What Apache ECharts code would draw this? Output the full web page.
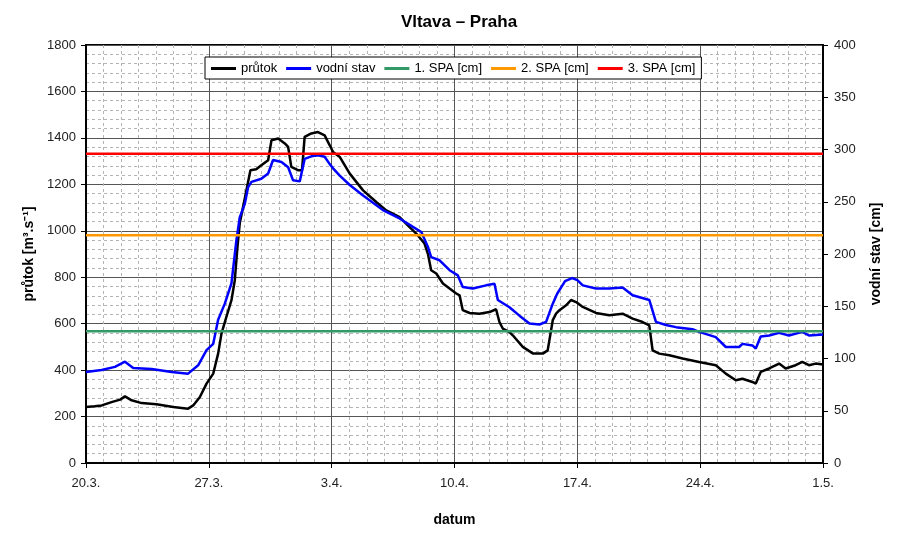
<!DOCTYPE html>
<html>
<head>
<meta charset="utf-8">
<script src="https://cdn.jsdelivr.net/npm/echarts@6/dist/echarts.min.js"></script>
<style>
  html, body { margin: 0; padding: 0; background: #fff; }
  #main { width: 900px; height: 539px; }
</style>
</head>
<body>
<div id="main"></div>
<script>
// osa x: dny od 20.3.
var dayLabels = ["20.3.", "27.3.", "3.4.", "10.4.", "17.4.", "24.4.", "1.5."];

// průtok [m3/s] - [den, hodnota]
var prutok = [
  [0, 241], [0.5, 244], [0.9, 248], [1.5, 263], [1.95, 273], [2.22, 287], [2.6, 270],
  [3.17, 258], [4.02, 253], [4.97, 241], [5.82, 234], [6.11, 248], [6.49, 284],
  [6.87, 342], [7.25, 385], [7.53, 471], [7.72, 557], [8.0, 629], [8.29, 701],
  [8.48, 787], [8.63, 930], [8.76, 1031], [8.95, 1102], [9.18, 1189], [9.37, 1261],
  [9.7, 1265], [9.99, 1282], [10.38, 1304], [10.57, 1390], [10.95, 1397], [11.33, 1376],
  [11.52, 1361], [11.7, 1275], [12.08, 1261], [12.31, 1261], [12.46, 1404], [12.84, 1419],
  [13.22, 1425], [13.6, 1411], [13.89, 1368], [14.08, 1339], [14.46, 1318], [15.03, 1246],
  [15.79, 1174], [16.54, 1124], [17.11, 1088], [17.87, 1059], [18.44, 1016], [18.82, 988],
  [19.29, 945], [19.48, 902], [19.67, 830], [19.96, 816], [20.34, 773], [20.72, 751],
  [21.1, 730], [21.29, 722], [21.47, 658], [21.86, 646], [22.42, 643], [22.99, 650],
  [23.37, 662], [23.56, 607], [23.75, 579], [24.13, 564], [24.32, 550], [24.89, 500],
  [25.46, 472], [26.03, 471], [26.31, 485], [26.6, 615], [26.79, 643], [26.98, 658],
  [27.36, 679], [27.64, 702], [27.93, 693], [28.31, 672], [29.06, 646], [29.82, 636],
  [30.58, 643], [31.15, 622], [31.72, 607], [32.1, 593], [32.29, 485], [32.67, 471],
  [33.24, 464], [34.0, 450], [34.94, 435], [35.89, 421], [36.46, 385], [37.03, 356],
  [37.41, 363], [37.98, 349], [38.17, 342], [38.45, 392], [38.93, 407], [39.5, 428],
  [39.87, 407], [40.44, 421], [40.82, 435], [41.2, 421], [41.58, 428], [42, 424]
];

// vodní stav [cm] - [den, hodnota]
var vodniStav = [
  [0, 87], [0.89, 89], [1.65, 92], [2.22, 97], [2.69, 91], [3.74, 90], [4.88, 87],
  [5.82, 85.5], [6.39, 93.5], [6.87, 108], [7.25, 114], [7.53, 137], [7.91, 152.5],
  [8.29, 172], [8.57, 213], [8.76, 235], [9.05, 248], [9.24, 264], [9.43, 269],
  [9.99, 272], [10.38, 277], [10.66, 290], [11.14, 288], [11.52, 283], [11.8, 270.5],
  [12.18, 269.5], [12.46, 291], [12.84, 293.5], [13.22, 294.5], [13.6, 293], [13.89, 286],
  [14.08, 282], [14.46, 275], [15.03, 266], [15.79, 256], [16.92, 242], [17.87, 234],
  [18.63, 226], [19.11, 221], [19.48, 207], [19.67, 197], [20.15, 194], [20.72, 184.5],
  [21.19, 179.5], [21.47, 168.5], [22.04, 167], [22.8, 170], [23.28, 171.5], [23.47, 156],
  [24.13, 149], [24.7, 141], [25.27, 133.5], [25.84, 132.5], [26.22, 135], [26.6, 152.5],
  [26.85, 162], [27.3, 174], [27.7, 177], [28.0, 175], [28.31, 170], [29.06, 167],
  [29.82, 167], [30.58, 168], [31.15, 160.5], [32.1, 156], [32.48, 135], [33.05, 132],
  [33.62, 130], [34.56, 128], [34.94, 125.5], [35.89, 120.5], [36.46, 111], [37.22, 111],
  [37.41, 114], [37.98, 112.5], [38.17, 109.5], [38.45, 121], [38.93, 122], [39.5, 124.5],
  [40.06, 122], [40.82, 125.5], [41.2, 122], [42, 123]
];

// stupně povodňové aktivity [cm]
var spa1 = 126;
var spa2 = 218;
var spa3 = 296;

var lastDay = 42;

var myChart = echarts.init(document.getElementById("main"));

var font = "Liberation Sans, Arial, sans-serif";

function spaLine(v) {
  return [[0, v], [lastDay, v]];
}

function plain(v) {
  return String(v);
}

var option = {
  animation: false,
  textStyle: { fontFamily: font },
  title: {
    text: "Vltava – Praha",
    left: 454,
    textAlign: "center",
    top: 9,
    textStyle: { fontFamily: font, fontSize: 17, fontWeight: "bold", color: "#000" }
  },
  legend: {
    left: 205,
    top: 57,
    padding: [5, 6, 4, 6],
    itemGap: 9,
    itemWidth: 25,
    itemHeight: 3,
    icon: "rect",
    borderColor: "#000",
    borderWidth: 1,
    backgroundColor: "#fff",
    textStyle: { fontFamily: font, fontSize: 13, color: "#000" },
    data: ["průtok", "vodní stav", "1. SPA [cm]", "2. SPA [cm]", "3. SPA [cm]"]
  },
  grid: {
    left: 86,
    right: 77,
    top: 45,
    bottom: 76,
    show: true,
    borderColor: "#000",
    borderWidth: 2
  },
  xAxis: {
    type: "value",
    min: 0,
    max: lastDay,
    interval: 7,
    name: "datum",
    nameLocation: "middle",
    nameGap: 50,
    nameTextStyle: { fontFamily: font, fontSize: 14, fontWeight: "bold", color: "#000" },
    axisLine: { lineStyle: { color: "#000", width: 2 } },
    axisTick: { show: true, length: 5, lineStyle: { color: "#000" } },
    axisLabel: {
      margin: 14,
      fontFamily: font,
      fontSize: 13,
      color: "#222",
      formatter: function (v) { return dayLabels[Math.round(v / 7)]; }
    },
    splitLine: { show: true, lineStyle: { color: "#555", width: 1 } },
    minorTick: { show: false, splitNumber: 7 },
    minorSplitLine: { show: true, lineStyle: { color: "#b4b4b4", width: 1, type: [3, 3] } }
  },
  yAxis: [
    {
      type: "value",
      min: 0,
      max: 1800,
      interval: 200,
      name: "průtok [m³.s⁻¹]",
      nameLocation: "middle",
      nameRotate: 90,
      nameGap: 47,
      nameTextStyle: { fontFamily: font, fontSize: 14, fontWeight: "bold", color: "#000" },
      axisLine: { show: true, lineStyle: { color: "#000", width: 2 } },
      axisTick: { show: true, length: 5, lineStyle: { color: "#000" } },
      axisLabel: { margin: 10, fontFamily: font, fontSize: 13, color: "#222", formatter: plain },
      splitLine: { show: true, lineStyle: { color: "#555", width: 1 } },
      minorTick: { show: false, splitNumber: 5 },
      minorSplitLine: { show: true, lineStyle: { color: "#b4b4b4", width: 1, type: [3, 3] } }
    },
    {
      type: "value",
      min: 0,
      max: 400,
      interval: 50,
      position: "right",
      name: "vodní stav [cm]",
      nameLocation: "middle",
      nameRotate: 90,
      nameGap: 46,
      nameTextStyle: { fontFamily: font, fontSize: 14, fontWeight: "bold", color: "#000" },
      axisLine: { show: true, lineStyle: { color: "#000", width: 2 } },
      axisTick: { show: true, length: 5, lineStyle: { color: "#000" } },
      axisLabel: { margin: 11, fontFamily: font, fontSize: 13, color: "#222", formatter: plain },
      splitLine: { show: false }
    }
  ],
  series: [
    {
      name: "průtok",
      type: "line",
      yAxisIndex: 0,
      showSymbol: false,
      lineStyle: { color: "#000", width: 2.5 },
      itemStyle: { color: "#000" },
      data: prutok
    },
    {
      name: "vodní stav",
      type: "line",
      yAxisIndex: 1,
      showSymbol: false,
      lineStyle: { color: "#0000ff", width: 2.5 },
      itemStyle: { color: "#0000ff" },
      data: vodniStav
    },
    {
      name: "1. SPA [cm]",
      type: "line",
      yAxisIndex: 1,
      showSymbol: false,
      lineStyle: { color: "#339966", width: 2.5 },
      itemStyle: { color: "#339966" },
      data: spaLine(spa1)
    },
    {
      name: "2. SPA [cm]",
      type: "line",
      yAxisIndex: 1,
      showSymbol: false,
      lineStyle: { color: "#ff9900", width: 2.5 },
      itemStyle: { color: "#ff9900" },
      data: spaLine(spa2)
    },
    {
      name: "3. SPA [cm]",
      type: "line",
      yAxisIndex: 1,
      showSymbol: false,
      lineStyle: { color: "#ff0000", width: 2.5 },
      itemStyle: { color: "#ff0000" },
      data: spaLine(spa3)
    }
  ]
};

myChart.setOption(option);
</script>
</body>
</html>
